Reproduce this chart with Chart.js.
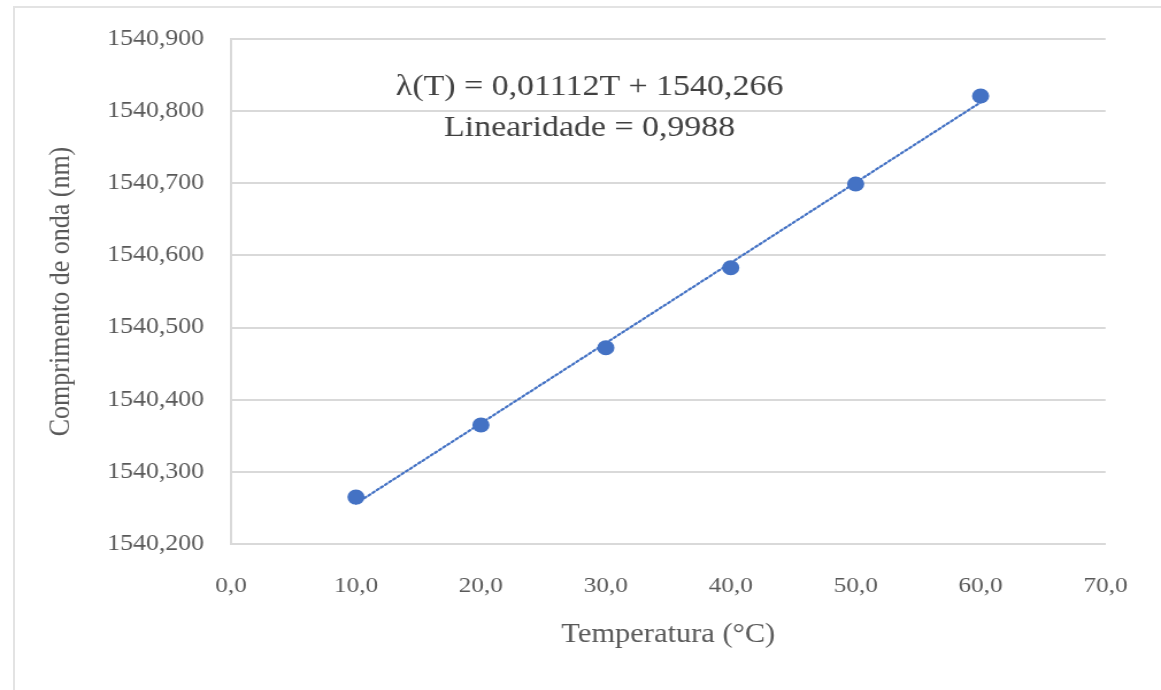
<!DOCTYPE html>
<html>
<head>
<meta charset="utf-8">
<script src="https://cdn.jsdelivr.net/npm/chart.js@4/dist/chart.umd.min.js"></script>
<style>
  html, body { margin: 0; padding: 0; background: #fff; overflow: hidden; }
  #frame {
    position: absolute; left: 13px; top: 6px;
    width: 1300px; height: 800px;
    border: 2px solid #e3e3e3;
  }
  /* the figure is drawn a bit narrower and widened horizontally */
  #wrap {
    position: absolute; left: 0; top: 0;
    width: 1010px; height: 690px;
    transform: scaleX(1.1495);
    transform-origin: 0 0;
  }
</style>
</head>
<body>
<div id="frame"></div>
<div id="wrap"><canvas id="chart" width="1010" height="690"></canvas></div>
<script>
// temperatura (°C) e comprimento de onda medido (nm)
const temperatures = [10, 20, 30, 40, 50, 60];
const wavelengths = [1540.265, 1540.365, 1540.472, 1540.583, 1540.699, 1540.821];

const xTicks = [0, 10, 20, 30, 40, 50, 60, 70];
const yTicks = [1540.2, 1540.3, 1540.4, 1540.5, 1540.6, 1540.7, 1540.8, 1540.9];

const equationLines = ["λ(T) = 0,01112T + 1540,266", "Linearidade = 0,9988"];

const BLUE = "#4472c4";
const GREY = "#595959";
const SERIF = "'Liberation Serif', 'Times New Roman', serif";

// least-squares fit for the trend line
function linearFit(xs, ys) {
    const n = xs.length;
    const mx = xs.reduce((a, b) => a + b, 0) / n;
    const my = ys.reduce((a, b) => a + b, 0) / n;
    let sxy = 0, sxx = 0;
    xs.forEach((x, i) => { sxy += (x - mx) * (ys[i] - my); sxx += (x - mx) * (x - mx); });
    const slope = sxy / sxx;
    return { slope, intercept: my - slope * mx };
}

const fit = linearFit(temperatures, wavelengths);
const trendX = [temperatures[0], temperatures[temperatures.length - 1]];
const trendPoints = trendX.map(x => ({ x, y: fit.intercept + fit.slope * x }));

const equationLabel = {
    id: "equationLabel",
    afterDatasetsDraw(chart) {
        const { ctx, scales: { x, y } } = chart;
        const cx = x.getPixelForValue(28.7);
        ctx.save();
        ctx.fillStyle = "#404040";
        ctx.font = "29.5px " + SERIF;
        ctx.textAlign = "center";
        ctx.textBaseline = "alphabetic";
        ctx.fillText(equationLines[0], cx, y.getPixelForValue(1540.8225));
        ctx.fillText(equationLines[1], cx, y.getPixelForValue(1540.766));
        ctx.restore();
    }
};

new Chart(document.getElementById("chart"), {
    type: "scatter",
    data: {
        datasets: [
            {
                type: "line",
                data: trendPoints,
                borderColor: BLUE,
                borderWidth: 2.2,
                borderDash: [2, 2.5],
                borderCapStyle: "round",
                pointRadius: 0,
                fill: false,
                order: 2
            },
            {
                data: temperatures.map((t, i) => ({ x: t, y: wavelengths[i] })),
                backgroundColor: BLUE,
                borderColor: BLUE,
                pointRadius: 7.5,
                pointBorderWidth: 0,
                order: 1
            }
        ]
    },
    options: {
        responsive: false,
        animation: false,
        devicePixelRatio: 1,
        layout: { padding: { top: 39, right: 44.4, bottom: 0, left: 0 } },
        plugins: {
            legend: { display: false },
            tooltip: { enabled: false }
        },
        scales: {
            x: {
                type: "linear",
                min: xTicks[0],
                max: xTicks[xTicks.length - 1],
                afterBuildTicks: s => { s.ticks = xTicks.map(v => ({ value: v })); },
                afterFit: s => { s.height = 146; },
                grid: { display: false, drawTicks: false },
                border: { display: true, color: "#d9d9d9", width: 2 },
                ticks: {
                    padding: 29,
                    color: GREY,
                    font: { family: SERIF, size: 22 },
                    callback: v => v.toFixed(1).replace(".", ",")
                },
                title: {
                    display: true,
                    text: "Temperatura (°C)",
                    color: GREY,
                    font: { family: SERIF, size: 26.5 },
                    padding: { top: 0, bottom: 39 }
                }
            },
            y: {
                min: yTicks[0],
                max: yTicks[yTicks.length - 1],
                afterBuildTicks: s => { s.ticks = yTicks.map(v => ({ value: v })); },
                afterFit: s => { s.width = 201; },
                grid: { color: "#d9d9d9", lineWidth: 2, drawTicks: false },
                border: { display: true, color: "#d9d9d9", width: 2 },
                ticks: {
                    padding: 23.5,
                    color: GREY,
                    font: { family: SERIF, size: 22.5 },
                    callback: v => v.toFixed(3).replace(".", ",")
                },
                title: {
                    display: true,
                    text: "Comprimento de onda (nm)",
                    color: GREY,
                    font: { family: SERIF, size: 26 },
                    padding: { top: 38, bottom: 0 }
                }
            }
        }
    },
    plugins: [equationLabel]
});
</script>
</body>
</html>
